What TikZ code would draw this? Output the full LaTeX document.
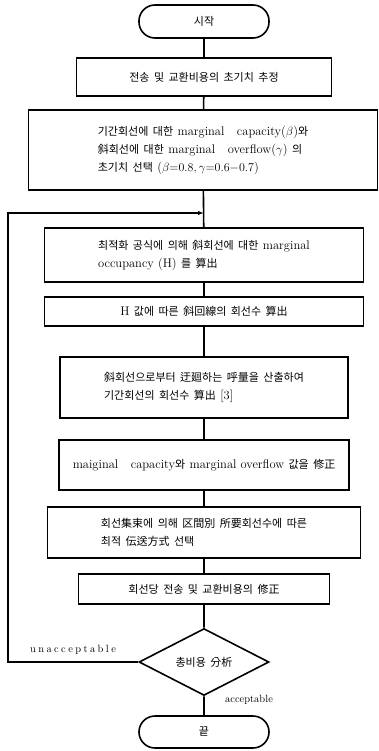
\documentclass[tikz,border=0pt]{standalone}
\usepackage{fontspec}
\usetikzlibrary{arrows.meta}
\usetikzlibrary{shapes.geometric}
\newfontfamily\kr[WordSpace=1.8]{Noto Sans CJK KR}
\newcommand{\lm}[1]{{\rmfamily\fontsize{12.5}{18}\selectfont #1}}
\newcommand{\lsp}{\kern2.4pt}

\begin{document}
\begin{tikzpicture}[x=1pt, y=-1pt, line width=1.6pt,
    box/.style={rectangle, draw, font=\kr\fontsize{11}{18}\selectfont, align=left, inner sep=0pt},
    term/.style={box, rounded corners=16pt, minimum width=130pt, minimum height=33pt},
    decide/.style={diamond, draw, font=\kr\fontsize{11}{18}\selectfont, inner sep=0pt, minimum width=130pt, minimum height=62pt},
    lbl/.style={font=\fontsize{10.5}{12}\selectfont}]
    \useasboundingbox (0,0) rectangle (379,751);

    \node[term] (1) at (204,21.5) {시작};
    \node[box, minimum width=255pt, minimum height=38pt] (2) at (204,77) {전송 및 교환비용의 초기치 추정};
    \node[box, minimum width=349pt, minimum height=80pt] (3) at (203,150) {기간회선에 대한 \lm{marginal\quad capacity($\beta$)}와\\ 斜회선에 대한 \lm{marginal\quad overflow($\gamma$)} 의\\ 초기치 선택 \lm{($\beta{=}0.8,\gamma{=}0.6{-}0.7$)}};
    \node[box, minimum width=319pt, minimum height=54pt] (4) at (204,255) {최적화 공식에 의해 斜회선에 대한 \lm{marginal}\\ \lm{occupancy (H)} 를 算出};
    \node[box, minimum width=319pt, minimum height=29pt] (5) at (204,311.5) {\lm{H} 값에 따른 斜回線의 회선수 算出};
    \node[box, minimum width=288pt, minimum height=61pt] (6) at (204,387.5) {斜회선으로부터 迂廻하는 呼量을 산출하여\\ 기간회선의 회선수 算出 \lm{[3]}};
    \node[box, minimum width=290pt, minimum height=50pt] (7) at (204,465) {\lm{maiginal\quad capacity}와 \lm{marginal overflow} 값을 修正};
    \node[box, minimum width=313pt, minimum height=51pt] (8) at (204,532.5) {회선集束에 의해 区間別 所要회선수에 따른\\ 최적 伝送方式 선택};
    \node[box, minimum width=251pt, minimum height=30pt] (9) at (204,589) {회선당 전송 및 교환비용의 修正};
    \node[decide] (10) at (204,662) {총비용 分析};
    \node[term, minimum height=32pt] (11) at (204,732) {끝};

    \coordinate (12) at (8,213);
    \coordinate (13) at (204,213);
    \node[lbl] (14) at (73,650) {u\lsp n\lsp a\lsp c\lsp c\lsp e\lsp p\lsp t\lsp a\lsp b\lsp l\lsp e};
    \node[lbl] (15) at (249,700) {acceptable};

    \draw (1) -- (2) -- (3) -- (4) -- (5) -- (6) -- (7) -- (8) -- (9) -- (10) -- (11);
    \draw[-{Latex[length=6pt,width=4.5pt]}] (10.west) -| (12) -- (13);
  \end{tikzpicture}
\end{document}
